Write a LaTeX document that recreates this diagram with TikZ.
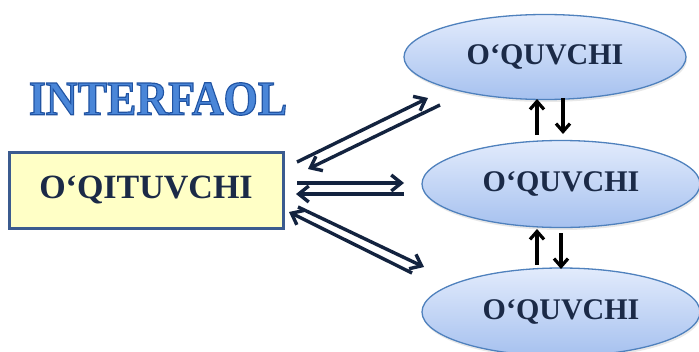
\documentclass[tikz,border=0pt]{standalone}
\usepackage{fontspec}
\setmainfont{Liberation Serif}
\usetikzlibrary{arrows.meta,shapes.geometric,shadows}
\definecolor{txtnavy}{HTML}{1B2A47}
\definecolor{arrnavy}{HTML}{13233F}
\definecolor{elltop}{HTML}{E2EBFC}
\definecolor{ellbot}{HTML}{A6C1EF}
\definecolor{ellline}{HTML}{4F81BD}
\definecolor{rectfill}{HTML}{FFFFC6}
\definecolor{rectline}{HTML}{3B5B8F}
\definecolor{titleblue}{HTML}{4A86D8}
\newcommand{\outlinedtext}[1]{\special{pdf:code q 2 Tr 1.1 w 0.13 0.33 0.64 RG}#1\special{pdf:code Q}}
\tikzset{
  pupil/.style={ellipse, draw=ellline, line width=1.3pt, top color=elltop, bottom color=ellbot,
    minimum width=280pt, minimum height=86pt, inner sep=0pt,
    text=txtnavy, font=\fontsize{30}{36}\selectfont\bfseries,
    drop shadow={opacity=0.18, shadow xshift=1pt, shadow yshift=-2.5pt}},
  teacher/.style={rectangle, draw=rectline, line width=3pt, fill=rectfill,
    minimum width=274pt, minimum height=76pt, inner sep=0pt,
    text=txtnavy, font=\fontsize{34}{40}\selectfont\bfseries,
    drop shadow={opacity=0.15, shadow xshift=1pt, shadow yshift=-2pt}},
  dblarrow/.style={draw=arrnavy, line width=3.4pt, -{Straight Barb[length=10pt,width=16pt]}},
  vertarrow/.style={draw=black, line width=3.2pt, -{Straight Barb[length=8pt,width=14pt]}},
  titlefont/.style={font=\fontsize{44}{50}\selectfont\bfseries, inner sep=0pt, yscale=1.1}
}
\begin{document}
\begin{tikzpicture}[x=1pt,y=-1pt]
\useasboundingbox (0,0) rectangle (699,351);
\clip (0,0) rectangle (699,351);
\fill[white] (0,0) rectangle (699,351);

% title
\node[titlefont, text=titleblue] (title) at (158,99) {\outlinedtext{INTERFAOL}};

% nodes
\node[teacher] (teach) at (146,190) {O‘QITUVCHI};
\node[pupil, minimum width=282pt, minimum height=85pt] (p1) at (545,57) {O‘QUVCHI};
\node[pupil, minimum width=278pt, minimum height=87pt] (p2) at (561,184) {O‘QUVCHI};
\node[pupil, minimum width=278pt, minimum height=88pt] (p3) at (561,312) {O‘QUVCHI};

% endpoints of the double arrows
\coordinate (a1s) at (297,162); \coordinate (a1e) at (428,98);
\coordinate (a2s) at (440,105); \coordinate (a2e) at (308,169);
\coordinate (b1s) at (297,183); \coordinate (b1e) at (404,183);
\coordinate (b2s) at (404,194); \coordinate (b2e) at (296,194);
\coordinate (c1s) at (298,207); \coordinate (c1e) at (424,267);
\coordinate (c2s) at (412,273); \coordinate (c2e) at (289,212);

\draw[dblarrow] (a1s) -- (a1e);
\draw[dblarrow] (a2s) -- (a2e);
\draw[dblarrow] (b1s) -- (b1e);
\draw[dblarrow] (b2s) -- (b2e);
\draw[dblarrow] (c1s) -- (c1e);
\draw[dblarrow] (c2s) -- (c2e);

% vertical arrows between pupils
\coordinate (u1s) at (537,135); \coordinate (u1e) at (537,99);
\coordinate (d1s) at (563,98);  \coordinate (d1e) at (563,134);
\coordinate (u2s) at (537,265); \coordinate (u2e) at (537,229);
\coordinate (d2s) at (561,233); \coordinate (d2e) at (561,269);
\draw[vertarrow] (u1s) -- (u1e);
\draw[vertarrow] (d1s) -- (d1e);
\draw[vertarrow] (u2s) -- (u2e);
\draw[vertarrow] (d2s) -- (d2e);
\end{tikzpicture}
\end{document}
